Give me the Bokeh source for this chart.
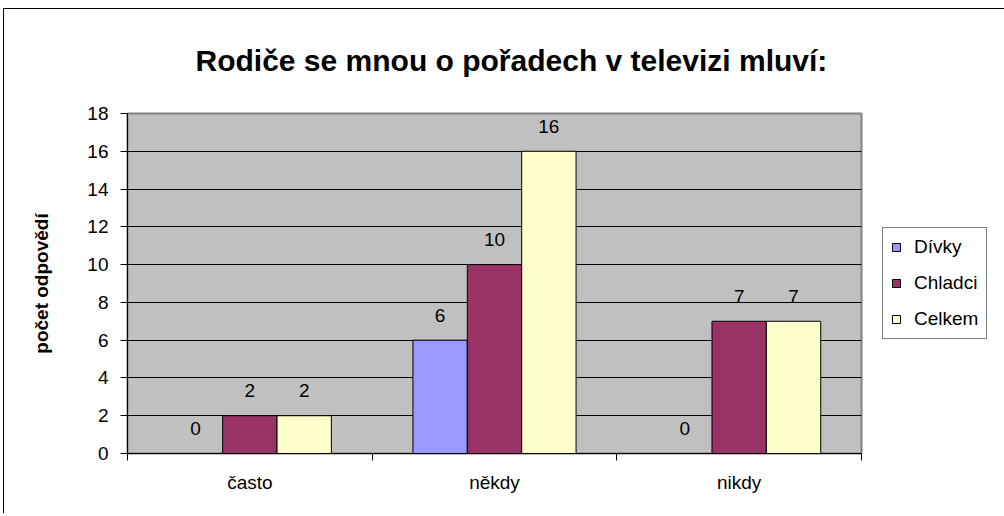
from bokeh.plotting import figure
from bokeh.models import Range1d, FixedTicker, ColumnDataSource, Legend, LegendItem
from bokeh.transform import dodge
from bokeh.core.properties import value
from bokeh.embed import file_html
from bokeh.resources import INLINE

# ---- data ----
categories = ["často", "někdy", "nikdy"]
divky = [0, 6, 0]
chladci = [2, 10, 7]
celkem = [2, 16, 7]
series_names = ["Dívky", "Chladci", "Celkem"]
series_colors = ["#9999FF", "#993366", "#FFFFCC"]
y_ticks = [0, 2, 4, 6, 8, 10, 12, 14, 16, 18]
title_text = "Rodiče se mnou o pořadech v televizi mluví:"
y_label = "počet odpovědí"

FONT = "Liberation Sans"

n = len(categories)
centers = [i + 0.5 for i in range(n)]
bar_w = 1 / 4.5

src = ColumnDataSource(dict(
    x=centers,
    s0=divky, s1=chladci, s2=celkem,
    t0=[str(v) for v in divky], t1=[str(v) for v in chladci], t2=[str(v) for v in celkem],
))

p = figure(frame_width=734, frame_height=340, output_backend="svg", toolbar_location=None,
           x_range=Range1d(0, n), y_range=Range1d(0, 18),
           min_border_left=127, min_border_right=0, min_border_top=113, min_border_bottom=60)

# chart-area border (top and left edges visible, as in the reference)
p.styles = {"box-shadow": "inset 0 8px 0 0 white, inset 3px 0 0 0 white, "
                          "inset 0 9px 0 0 black, inset 4px 0 0 0 black"}

p.background_fill_color = "#C0C0C0"
p.border_fill_color = None
p.outline_line_color = "#808080"
p.outline_line_width = 2

p.title.text = title_text
p.title.text_font = FONT
p.title.text_font_size = "30px"
p.title.text_font_style = "bold"
p.title.text_color = "black"
p.title.align = "left"
p.title.offset = 68
p.title.standoff = 73

renderers = []
keys = ["s0", "s1", "s2"]
tkeys = ["t0", "t1", "t2"]
offsets = [-bar_w, 0.0, bar_w]
for k, tk, off, col, name in zip(keys, tkeys, offsets, series_colors, series_names):
    r = p.vbar(x=dodge("x", off, range=p.x_range), top=k, width=bar_w, bottom=0,
               source=src, fill_color=col, line_color="black", line_width=1)
    renderers.append((name, r))
    p.text(x=dodge("x", off, range=p.x_range), y=k, text=tk, source=src,
           text_align="center", text_baseline="alphabetic", y_offset=-25,
           text_font=value(FONT), text_font_size="19px", text_color="black")

# y axis
p.yaxis.ticker = FixedTicker(ticks=y_ticks)
p.yaxis.axis_label = y_label
p.yaxis.axis_label_text_font = FONT
p.yaxis.axis_label_text_font_size = "19px"
p.yaxis.axis_label_text_font_style = "bold"
p.yaxis.axis_label_text_color = "black"
p.yaxis.axis_label_standoff = 32
p.yaxis.major_label_text_font = FONT
p.yaxis.major_label_text_font_size = "19px"
p.yaxis.major_label_text_color = "black"
p.yaxis.major_label_standoff = 12
p.yaxis.major_tick_out = 7
p.yaxis.major_tick_in = 0
p.yaxis.minor_tick_line_color = None
p.yaxis.axis_line_color = "black"
p.yaxis.major_tick_line_color = "black"

# x axis
p.xaxis.ticker = FixedTicker(ticks=centers, minor_ticks=list(range(n + 1)))
p.xaxis.major_label_overrides = {c: lab for c, lab in zip(centers, categories)}
p.xaxis.major_label_text_font = FONT
p.xaxis.major_label_text_font_size = "19px"
p.xaxis.major_label_text_color = "black"
p.xaxis.major_label_standoff = 11
p.xaxis.major_tick_out = 0
p.xaxis.major_tick_in = 0
p.xaxis.minor_tick_out = 7
p.xaxis.minor_tick_in = 0
p.xaxis.minor_tick_line_color = "black"
p.xaxis.axis_line_color = "black"

# grid
p.xgrid.grid_line_color = None
p.ygrid.grid_line_color = "black"
p.ygrid.grid_line_width = 1

legend = Legend(items=[LegendItem(label=nm, renderers=[r]) for nm, r in renderers],
                location="center_left")
legend.label_text_font = FONT
legend.label_text_font_size = "19px"
legend.label_text_color = "black"
legend.glyph_width = 10
legend.glyph_height = 10
legend.label_standoff = 13
legend.padding = 8
legend.spacing = 14
legend.label_height = 22
legend.margin = 21
legend.border_line_color = "black"
legend.border_line_width = 1
legend.background_fill_color = "white"
legend.background_fill_alpha = 1
p.add_layout(legend, "right")

open("out.html", "w").write(file_html(p, INLINE))
